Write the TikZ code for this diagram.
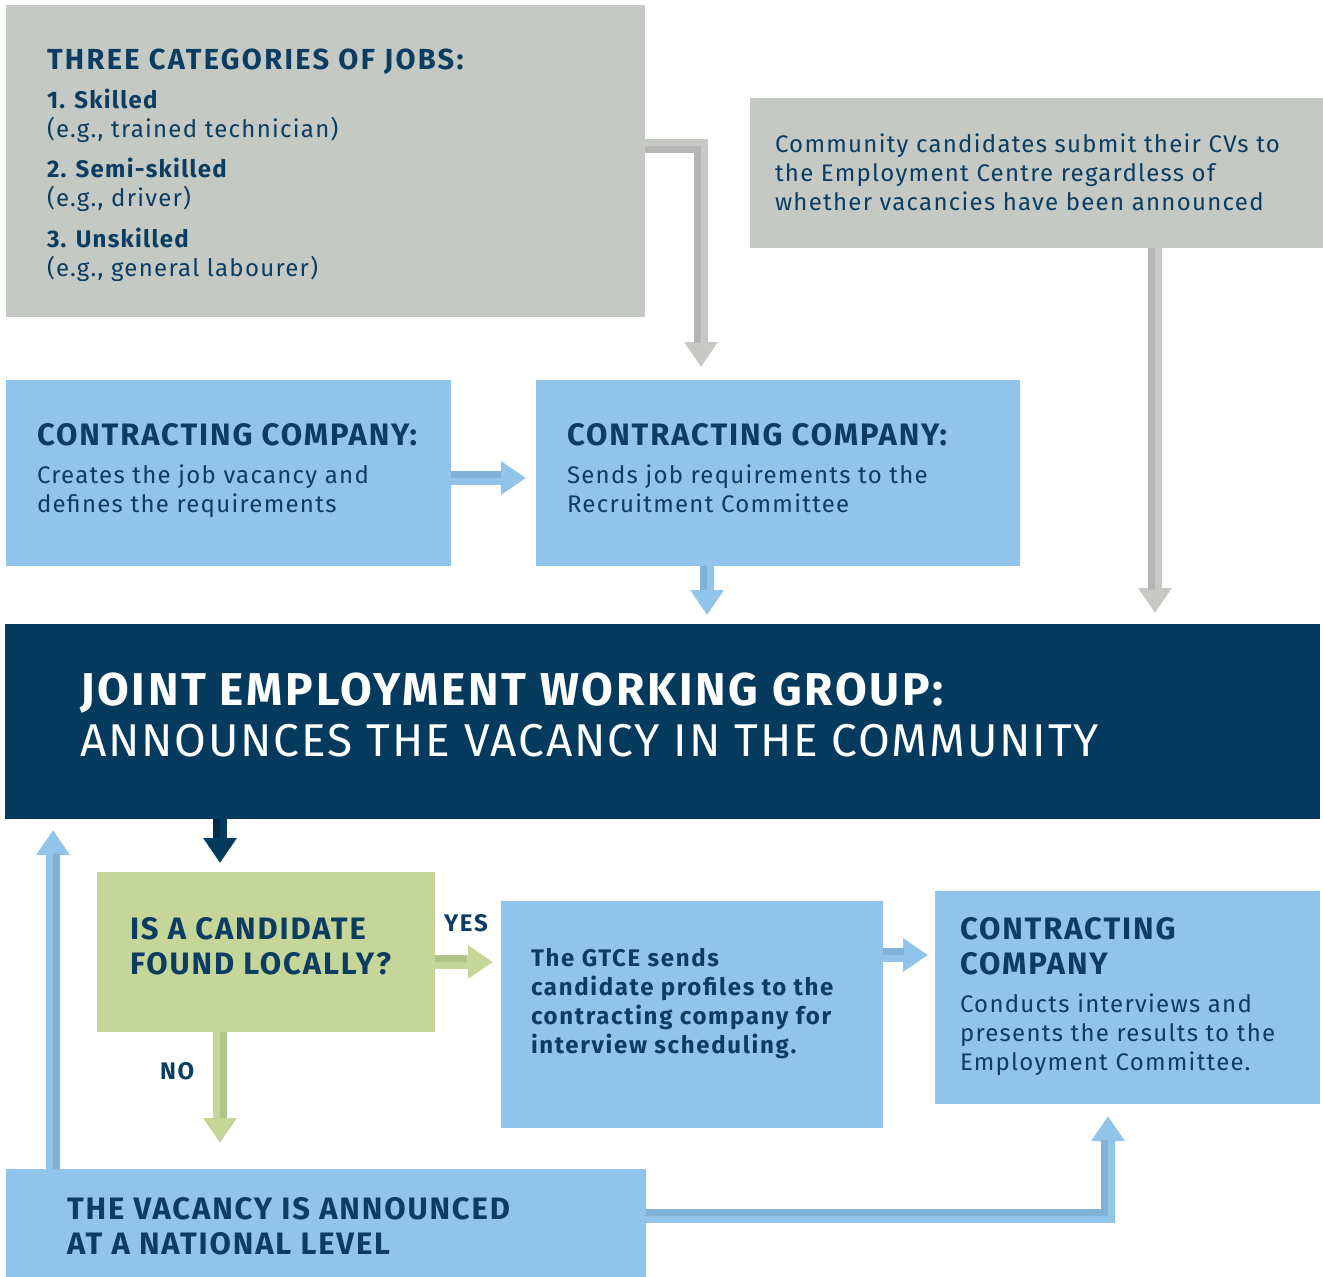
\documentclass[tikz,border=0pt]{standalone}
\usepackage{fontspec}
\setmainfont{Fira Sans}
\usetikzlibrary{arrows.meta,calc}
\definecolor{boxgray}{HTML}{C4C9C3}
\definecolor{argrayL}{HTML}{C6C9C4}
\definecolor{argrayD}{HTML}{B4B5B4}
\definecolor{lblue}{HTML}{91C4EA}
\definecolor{dblue}{HTML}{80B1D7}
\definecolor{navy}{HTML}{033A5E}
\definecolor{navyD}{HTML}{022C48}
\definecolor{txt}{HTML}{0B3C61}
\definecolor{lgreen}{HTML}{C6D698}
\definecolor{dgreen}{HTML}{B3C488}
\newcommand{\lsp}[1]{\addfontfeatures{LetterSpace=#1}}
\begin{document}
\begin{tikzpicture}[x=1pt,y=-1pt,
  box/.style={draw=none,inner sep=0pt,outer sep=0pt,anchor=north west},
  lbl/.style={anchor=base west,inner sep=0pt,outer sep=0pt,align=left,text=txt},
  hd/.style={lbl,font=\fontsize{31}{35}\selectfont\bfseries\lsp{6}},
  bd/.style={lbl,font=\fontsize{24}{29}\selectfont\lsp{5.3}},
  bdb/.style={lbl,font=\fontsize{24}{29}\selectfont\bfseries\lsp{7}},
  fat/.style={line width=14pt,line join=miter,-{Triangle[width=32pt,length=25pt]}},
  stripe/.style={line width=7pt,line join=miter}]
\useasboundingbox (0,0) rectangle (1323,1277);
% boxes
\node[box,fill=boxgray,minimum width=639pt,minimum height=312pt] (gb1) at (6,5) {};
\node[box,fill=boxgray,minimum width=573pt,minimum height=150pt] (gb2) at (750,98) {};
\node[box,fill=lblue,minimum width=445pt,minimum height=186pt] (bb1) at (6,380) {};
\node[box,fill=lblue,minimum width=484pt,minimum height=186pt] (bb2) at (536,380) {};
\node[box,fill=navy,minimum width=1315pt,minimum height=195pt] (nv) at (5,624) {};
\node[box,fill=lgreen,minimum width=338pt,minimum height=160pt] (gr) at (97,872) {};
\node[box,fill=lblue,minimum width=382pt,minimum height=227pt] (bb3) at (501,901) {};
\node[box,fill=lblue,minimum width=385pt,minimum height=213pt] (bb4) at (935,891) {};
\node[box,fill=lblue,minimum width=640pt,minimum height=108pt] (bb5) at (6,1169) {};
% arrows
\draw[fat,argrayL] ($(gb1.north east)+(0,141)$) -| ($(bb2.north west)+(165,-13)$);
\draw[stripe,argrayD] ($(gb1.north east)+(0,144.5)$) -| ($(bb2.north west)+(161.5,-37)$);
\draw[fat,lblue] ($(bb1.north east)+(0,98)$) -- ($(bb2.north west)+(-10,98)$);
\draw[stripe,dblue] ($(bb1.north east)+(0,94.5)$) -- ($(bb2.north west)+(-35,94.5)$);
\draw[fat,lblue] ($(bb2.south west)+(171,0)$) -- ($(nv.north west)+(702,-9)$);
\draw[stripe,dblue] ($(bb2.south west)+(167.5,0)$) -- ($(nv.north west)+(698.5,-34)$);
\draw[fat,argrayL] ($(gb2.south west)+(405,0)$) -- ($(nv.north west)+(1150,-11)$);
\draw[stripe,argrayD] ($(gb2.south west)+(401.5,0)$) -- ($(nv.north west)+(1146.5,-34)$);
\draw[fat,navy] ($(nv.south west)+(215,0)$) -- ($(gr.north west)+(123,-9)$);
\draw[stripe,navyD] ($(nv.south west)+(211.5,0)$) -- ($(gr.north west)+(119.5,-34)$);
\draw[fat,lblue] ($(bb5.north west)+(47,0)$) -- ($(nv.south west)+(48,11)$);
\draw[stripe,dblue] ($(bb5.north west)+(50.5,0)$) -- ($(nv.south west)+(51.5,35)$);
\draw[fat,lgreen] ($(gr.north east)+(0,90)$) -- ($(bb3.north west)+(-8,61)$);
\draw[stripe,dgreen] ($(gr.north east)+(0,86.5)$) -- ($(bb3.north west)+(-34,57.5)$);
\draw[fat,lblue] ($(bb3.north east)+(0,54)$) -- ($(bb4.north west)+(-7,64)$);
\draw[stripe,dblue] ($(bb3.north east)+(0,50.5)$) -- ($(bb4.north west)+(-31,60.5)$);
\draw[fat,lblue] ($(bb5.north east)+(0,47)$) -| ($(bb4.south west)+(173,12)$);
\draw[stripe,dblue] ($(bb5.north east)+(0,43.5)$) -| ($(bb4.south west)+(169.5,36)$);
\draw[fat,lgreen] ($(gr.south west)+(123,0)$) -- ($(bb5.north west)+(214,-26)$);
\draw[stripe,dgreen] ($(gr.south west)+(126.5,0)$) -- ($(bb5.north west)+(217.5,-51)$);
% texts
\node[lbl,font=\fontsize{29}{33}\selectfont\bfseries\lsp{8}] (t1) at (47,69) {THREE CATEGORIES OF JOBS:};
\node[bd] (t2) at (47,137) {\textbf{1. Skilled}\\(e.g., trained technician)};
\node[bd] (t3) at (47,206) {\textbf{2. Semi-skilled}\\(e.g., driver)};
\node[bd] (t4) at (47,276) {\textbf{3. Unskilled}\\(e.g., general labourer)};
\node[bd] (t5) at (775,210) {Community candidates submit their CVs to\\the Employment Centre regardless of\\whether vacancies have been announced};
\node[hd] (t6) at (37,445) {CONTRACTING COMPANY:};
\node[bd] (t7) at (37,512) {Creates the job vacancy and\\defines the requirements};
\node[hd] (t8) at (567,445) {CONTRACTING COMPANY:};
\node[bd] (t9) at (567,512) {Sends job requirements to the\\Recruitment Committee};
\node[lbl,text=white,font=\fontsize{46}{51}\selectfont\bfseries\lsp{6}] (t10) at (80,705) {JOINT EMPLOYMENT WORKING GROUP:};
\node[lbl,text=white,font=\fontsize{46}{51}\selectfont\lsp{4}] (t11) at (80,756) {ANNOUNCES THE VACANCY IN THE COMMUNITY};
\node[hd] (t12) at (130,974) {IS A CANDIDATE\\FOUND LOCALLY?};
\node[bdb] (t13) at (444,931) {YES};
\node[bdb] (t14) at (160,1079) {NO};
\node[bdb] (t15) at (531,1053) {The GTCE sends\\candidate profiles to the\\contracting company for\\interview scheduling.};
\node[hd] (t16) at (960,974) {CONTRACTING\\COMPANY};
\node[bd] (t17) at (960,1070) {Conducts interviews and\\presents the results to the\\Employment Committee.};
\node[hd] (t18) at (67,1254) {THE VACANCY IS ANNOUNCED\\AT A NATIONAL LEVEL};
\end{tikzpicture}
\end{document}
